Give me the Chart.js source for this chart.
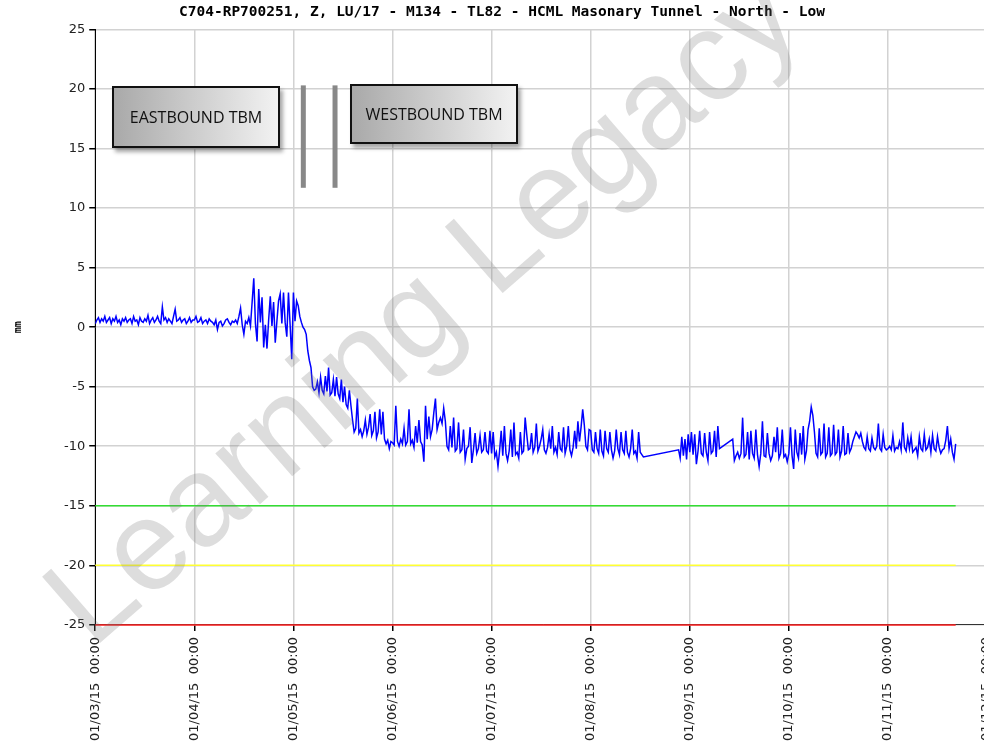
<!DOCTYPE html>
<html>
<head>
<meta charset="utf-8">
<script src="https://cdn.jsdelivr.net/npm/chart.js@4/dist/chart.umd.min.js"></script>
<style>
  html, body { margin: 0; padding: 0; background: #fff; overflow: hidden; }
  #wrap { position: relative; width: 992px; height: 747px; }
  .tbm {
    position: absolute; box-sizing: border-box;
    border: 2px solid #111;
    background: linear-gradient(to right, #a9a9a9, #f2f2f2);
    box-shadow: 3px 4px 4px rgba(0,0,0,0.35);
    font: 16px "Open Sans", sans-serif; color: #111;
    display: flex; align-items: center; justify-content: center;
  }
  #watermark {
    position: absolute; left: 420px; top: 306px;
    transform: translate(-50%, -50%) rotate(-41deg);
    font: 128px "Liberation Sans", sans-serif;
    color: rgba(120,120,120,0.25);
    white-space: nowrap; pointer-events: none;
  }
</style>
</head>
<body>
<div id="wrap">
  <canvas id="chart" width="992" height="747"></canvas>
  <div class="tbm" style="left:112px;top:86px;width:168px;height:62px;">EASTBOUND TBM</div>
  <div class="tbm" style="left:350px;top:84px;width:168px;height:60px;">WESTBOUND TBM</div>
  <div id="watermark">Learning Legacy</div>
</div>
<script>
// month ticks (uniformly spaced on the axis)
const monthLabels = ["01/03/15", "01/04/15", "01/05/15", "01/06/15", "01/07/15",
  "01/08/15", "01/09/15", "01/10/15", "01/11/15", "01/12/15"];
const daysInMonth = [31, 30, 31, 30, 31, 31, 30, 31, 30];

// readings in mm, two per day (00:00, 12:00); null = no reading
const mar = [0.3,0.6, 0.8,0.4, 0.7,0.5, 0.9,0.4, 0.6,0.8, 0.3,0.7, 0.5,0.9, 0.4,0.6,
  0.2,0.7, 0.5,0.8, 0.4,0.6, 0.7,0.3, 0.9,0.5, 0.6,0.2, 0.8,0.5, 0.4,0.7, 0.5,1.0,
  0.3,0.6, 0.8,0.4, 0.6,0.9, 0.5,0.3, 1.7,0.6, 0.8,0.4, 0.7,0.5, 0.3,0.9, 1.5,0.5,
  0.6,0.8, 0.4,0.6, 0.7,0.3, 0.5,0.8, 0.4,0.6];
const apr = [0.6,0.9, 0.4,0.5, 0.8,0.3, 0.5,0.6, 0.3,0.7, 0.5,0.4, 0.2,0.6, -0.2,0.4,
  0.5,0.1, 0.3,0.6, 0.7,0.4, 0.2,0.5, 0.4,0.6, 0.3,0.9, 1.6,0.2, -0.6,0.5, 0.3,0.8,
  0.1,2.1, 4.1,0.3, -1.2,3.2, 0.4,2.5, -1.7,0.2, -1.8,0.6, 2.6,0.1, 2.1,-1.3, 0.5,2.2,
  2.8,0.3, 2.9,0.4, -0.8,2.9, 0.2,-2.7];
const may = [2.9,0.5, 2.2,1.8, 0.9,0.4, 0.0,-0.2, -0.6,-2.0, -2.8,-3.4, -5.0,-5.3,
  -5.2,-4.6, -5.5,-4.2, -5.3,-5.6, -4.1,-5.4, -3.4,-5.7, -5.5,-4.4, -5.8,-4.2, -5.6,-6.0,
  -4.4,-6.3, -5.0,-6.5, -6.8,-5.3, -6.6,-7.8, -8.8,-8.5, -6.0,-8.9, -8.6,-9.2, -8.7,-7.8,
  -9.0,-8.4, -7.3,-9.1, -8.7,-7.1, -9.3,-8.8, -6.9,-9.0, -7.1,-9.4, -9.8,-9.5, -10.2,-9.6];
const jun = [-9.7,-9.9, -6.6,-9.6, -10.0,-9.4, -9.8,-8.5, -9.9,-9.6, -6.9,-9.8, -9.5,-10.1,
  -8.3,-9.7, -7.8,-9.6, -9.9,-11.3, -6.6,-9.4, -7.5,-9.2, -8.6,-7.2, -6.0,-8.6, -8.0,-7.6,
  -8.1,-6.8, -7.9,-10.0, -10.3,-8.3, -10.1,-7.6, -10.4,-10.2, -8.0,-10.5, -10.3,-8.6,
  -11.1,-10.2, -10.0,-8.4, -11.4,-10.3, -8.9,-10.6, -10.2,-9.1, -10.5,-10.3, -8.8,-10.4,
  -10.6,-8.7];
const jul = [-10.6,-8.8, -10.9,-10.5, -11.7,-10.4, -8.7,-10.8, -8.3,-10.6, -11.2,-10.4,
  -8.6,-10.9, -8.0,-10.7, -10.5,-11.0, -8.8,-10.6, -10.4,-7.6, -9.0,-10.3, -10.2,-8.9,
  -10.5,-10.1, -8.1,-10.4, -10.0,-9.4, -8.6,-10.3, -10.6,-10.1, -9.0,-10.2, -8.3,-10.5,
  -10.1,-10.7, -8.8,-10.2, -10.4,-8.4, -10.6,-10.0, -8.3,-10.3, -10.8,-10.1, -8.7,-10.2,
  -7.9,-9.6, -8.4,-6.9, -8.2,-10.0, -10.3,-8.6];
const aug = [-8.7,-10.3, -10.5,-8.8, -10.2,-10.6, -8.6,-10.4, -10.8,-8.7, -10.2,-10.5,
  -8.8,-10.3, -11.0,-10.4, -8.6,-10.2, -10.7,-8.8, -10.3,-10.6, -8.7,-10.5, -10.9,-10.2,
  -8.6,-10.6, -10.4,-11.0, -8.8,-10.5, -10.7,-10.9,
  null,null, null,null, null,null, null,null, null,null, null,null, null,null, null,null,
  null,null, null,null, null,-10.3, -11.0,-9.2, -10.8,-9.4, -11.1,-9.0];
const sep = [-10.5,-8.8, -10.7,-9.0, -11.5,-10.4, -8.7,-10.6, -10.8,-8.9, -10.5,-11.2,
  -8.8,-10.6, -10.4,-8.7, -10.9,-8.3, -10.2,null, null,null, null,null, null,null,
  -9.4,-11.2, -10.8,-10.5, -11.0,-10.6, -7.6,-10.9, -10.7,-8.8, -11.1,-8.7, -10.6,-11.0,
  -8.6,-10.7, -11.7,-10.6, -7.9,-10.8, -10.9,-8.9, -10.6,-11.2, -10.8,-9.2, -10.5,-8.4,
  -11.0,-10.6, -8.6,-10.9, -10.7,-11.3];
const oct = [-10.6,-8.4, -10.8,-11.9, -8.6,-10.5, -11.0,-8.9, -10.7,-8.3, -11.1,-10.4,
  -8.6,-7.9, -6.7,-7.4, -8.8,-10.6, -10.9,-8.5, -10.7,-10.5, -8.1,-10.9, -10.6,-8.4,
  -10.8,-10.6, -8.2,-10.7, -10.5,-8.6, -10.9,-10.4, -8.3,-10.7, -10.6,-8.9, -10.5,-10.2,
  -9.6,-9.2, -8.8,-9.0, -9.3,-8.9, -9.6,-10.1, -10.3,-9.2, -10.2,-10.4, -9.3,-10.1,
  -10.3,-10.0, -8.1,-10.2, -10.4,-9.0, -10.1,-10.3];
const nov = [-10.2,-10.0, -10.3,-9.1, -10.4,-10.1, -10.2,-9.6, -10.3,-8.0, -10.1,-10.4,
  -9.3,-10.2, -9.2,-10.5, -10.3,-10.1, -10.8,-9.2, -10.2,-10.4, -9.0,-10.3, -10.1,-9.4,
  -10.5,-9.1, -10.2,-10.4, -9.2,-10.1, -10.6,-10.3, -10.2,-9.5, -8.3,-10.2, -9.4,-10.5,
  -11.1,-9.8];
const readings = [mar, apr, may, jun, jul, aug, sep, oct, nov];

// trigger levels (mm)
const levels = [-15, -20, -25];
const levelColors = ["#33dd33", "#ffff33", "#ff2020"];

// tunnel boring machine passes (month position) and marker span (mm)
const tbmPasses = [2.10, 2.42];
const tbmSpan = [20.3, 11.7];

const points = [];
readings.forEach((arr, m) => {
  arr.forEach((v, k) => {
    points.push({ x: m + (k / 2) / daysInMonth[m], y: v });
  });
});
const lastX = points[points.length - 1].x;

const datasets = [{
  data: points,
  borderColor: "#0000ff",
  borderWidth: 1.5,
  pointRadius: 0,
  spanGaps: true,
  tension: 0
}];
levels.forEach((lv, i) => {
  datasets.push({
    data: [{ x: 0, y: lv }, { x: lastX, y: lv }],
    borderColor: levelColors[i],
    borderWidth: 1.5,
    pointRadius: 0,
    clip: false
  });
});

const tbmMarkers = {
  id: "tbmMarkers",
  afterDatasetsDraw(chart) {
    const { ctx, scales } = chart;
    ctx.save();
    ctx.strokeStyle = "#888";
    ctx.lineWidth = 5;
    tbmPasses.forEach(p => {
      const x = scales.x.getPixelForValue(p);
      ctx.beginPath();
      ctx.moveTo(x, scales.y.getPixelForValue(tbmSpan[0]));
      ctx.lineTo(x, scales.y.getPixelForValue(tbmSpan[1]));
      ctx.stroke();
    });
    ctx.restore();
  }
};

new Chart(document.getElementById("chart"), {
  type: "line",
  data: { datasets: datasets },
  plugins: [tbmMarkers],
  options: {
    responsive: false,
    animation: false,
    layout: { padding: { left: 12, right: 0, top: 0, bottom: 0 } },
    plugins: {
      legend: { display: false },
      tooltip: { enabled: false },
      title: {
        display: true,
        text: "C704-RP700251, Z, LU/17 - M134 - TL82 - HCML Masonary Tunnel - North - Low",
        color: "#000",
        font: { family: "DejaVu Sans Mono", size: 14.5, weight: "bold" },
        padding: { top: 4, bottom: 8 }
      }
    },
    scales: {
      x: {
        type: "linear",
        min: 0,
        max: 9.05,
        afterBuildTicks: axis => {
          axis.ticks = monthLabels.map((_, i) => ({ value: i }));
        },
        afterFit: axis => { axis.paddingRight = 0; },
        ticks: {
          autoSkip: false,
          minRotation: 90,
          maxRotation: 90,
          padding: 6,
          color: "#222",
          font: { family: "DejaVu Sans", size: 13 },
          callback: v => monthLabels[v] + "  00:00"
        },
        grid: { color: "#d2d2d2", lineWidth: 1.5, tickColor: "#000", tickLength: 6 },
        border: { color: "#333", width: 1 }
      },
      y: {
        min: -25,
        max: 25,
        ticks: {
          stepSize: 5,
          padding: 4,
          color: "#222",
          font: { family: "DejaVu Sans", size: 13 }
        },
        grid: { color: "#d2d2d2", lineWidth: 1.5, tickColor: "#000", tickLength: 6 },
        border: { color: "#000", width: 1 },
        title: {
          display: true,
          text: "mm",
          color: "#000",
          font: { family: "DejaVu Sans Mono", size: 10, weight: "bold" },
          padding: { top: 0, bottom: 36 }
        }
      }
    }
  }
});
</script>
</body>
</html>
